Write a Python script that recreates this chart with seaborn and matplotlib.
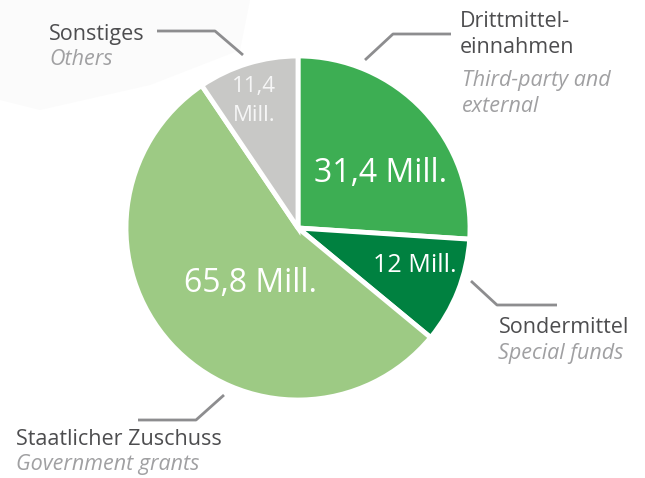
import matplotlib
matplotlib.use("Agg")
import matplotlib.pyplot as plt
import seaborn as sns
from matplotlib.patches import Polygon

sns.set_theme(style="white")
plt.rcParams['font.family'] = ['Open Sans', 'DejaVu Sans']

# ---- data ----
categories_de = ["Drittmittel-\neinnahmen", "Sondermittel", "Staatlicher Zuschuss", "Sonstiges"]
categories_en = ["Third-party and\nexternal", "Special funds", "Government grants", "Others"]
values = [31.4, 12.0, 65.8, 11.4]
value_labels = ["31,4 Mill.", "12 Mill.", "65,8 Mill.", "11,4\nMill."]
colors = ["#3dae53", "#008140", "#9dca84", "#c8c8c6"]

W, H = 645, 478
fig = plt.figure(figsize=(W / 100, H / 100), dpi=100)
ax = fig.add_axes([0, 0, 1, 1])
ax.set_xlim(0, W)
ax.set_ylim(0, H)
ax.set_aspect('equal')
ax.axis('off')

def P(x, y):
    return (x, H - y)

# very faint background shape
ax.add_patch(Polygon([P(0, 0), P(250, 0), P(240, 50), P(150, 85), P(40, 110), P(0, 100)],
                     closed=True, facecolor="#fbfbfb", edgecolor="none", zorder=0))

cx, cy = P(298, 228)
wedges, _ = ax.pie(values, colors=colors, startangle=90, counterclock=False,
                   radius=172, center=(cx, cy), explode=[0.02, 0, 0, 0],
                   wedgeprops=dict(edgecolor="white", linewidth=3.5))

ax.set_xlim(0, W)
ax.set_ylim(0, H)

# in-slice value labels (baseline anchored)
val_pos = [(381, 182), (415, 272), (250, 292), (254, 92)]
val_size = [23, 18, 23, 16]
val_color = ["white", "white", "white", "#f6f6f6"]
val_step = [0, 0, 0, 29]
for lab, (x, y), s, c, st in zip(value_labels, val_pos, val_size, val_color, val_step):
    for i, line in enumerate(lab.split("\n")):
        ax.text(*P(x, y + i * st), line, ha="center", va="baseline", fontsize=s,
                color=c, zorder=5)

# leader lines
lc = "#8d8d8f"
leaders = [
    [P(451, 34), P(393, 34), P(365, 60)],
    [P(471, 281), P(497, 305), P(557, 305)],
    [P(224, 395), P(196, 420), P(138, 420)],
    [P(157, 31), P(215, 31), P(243, 55)],
]
for pts in leaders:
    xs, ys = zip(*pts)
    ax.plot(xs, ys, color=lc, lw=2, solid_capstyle="butt", zorder=4)

# category labels (baseline anchored, one line each)
de_pos = [(460, 27), (499, 333), (16, 445), (49, 40)]
en_pos = [(462, 86), (498, 359), (16, 470), (49, 65)]
step = 26
fs = 15.5
for de, en, (xd, yd), (xe, ye) in zip(categories_de, categories_en, de_pos, en_pos):
    for i, line in enumerate(de.split("\n")):
        ax.text(*P(xd, yd + i * step), line, ha="left", va="baseline",
                fontsize=fs, color="#4d4d4f")
    for i, line in enumerate(en.split("\n")):
        ax.text(*P(xe, ye + i * step), line, ha="left", va="baseline",
                fontsize=fs, color="#a0a0a2", style="italic")

fig.savefig("out.png", dpi=100)
